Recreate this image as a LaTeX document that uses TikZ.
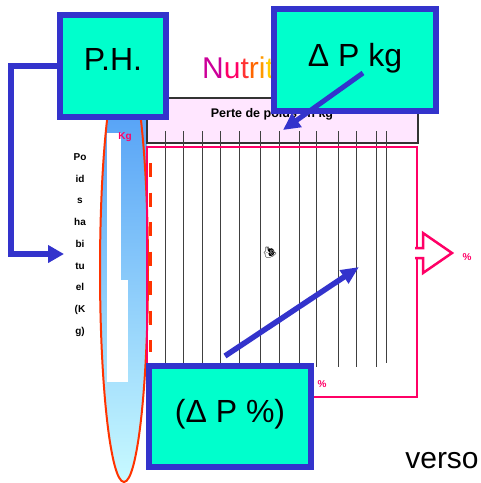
\documentclass[tikz,border=0pt]{standalone}
\usepackage{fontspec}
\setmainfont{Liberation Sans}
\newfontfamily\emojifont{Noto Emoji}
\usetikzlibrary{arrows.meta}
\definecolor{aqua}{RGB}{0,255,204}
\definecolor{bblue}{RGB}{51,51,204}
\definecolor{hotpink}{RGB}{255,0,102}
\definecolor{orred}{RGB}{255,51,0}
\definecolor{lpink}{RGB}{255,230,255}
\definecolor{gtop}{RGB}{70,150,245}
\definecolor{gbot}{RGB}{200,250,255}
\definecolor{tA}{RGB}{204,0,153}
\definecolor{tB}{RGB}{255,0,102}
\definecolor{tC}{RGB}{255,51,51}
\definecolor{tD}{RGB}{255,102,0}
\definecolor{tE}{RGB}{255,153,0}
\definecolor{tF}{RGB}{255,204,0}
\begin{document}
\begin{tikzpicture}[x=1pt,y=-1pt,
  callout/.style={draw=bblue, line width=6pt, fill=aqua, inner sep=0pt, font=\fontsize{32}{36}\selectfont},
  bluearrow/.style={draw=bblue, line width=6pt, -{Triangle[length=16pt,width=17pt]}},
  thinarrow/.style={draw=bblue, line width=5pt, -{Triangle[length=17pt,width=16pt]}},
  smalllabel/.style={inner sep=0pt, font=\bfseries\fontsize{10}{12}\selectfont},
  pinklabel/.style={smalllabel, text=hotpink},
  gridline/.style={draw=black!75, line width=1pt},
  thermo/.style={top color=gtop, bottom color=gbot}
]
\useasboundingbox (0,0) rectangle (481,483);
% thermometer
\begin{scope}
  \clip (124,270) ellipse [x radius=24, y radius=212];
  \shade[thermo] (99,58) rectangle (149,482);
\end{scope}
\begin{scope}
  \clip (107,110) rectangle (147,300);
  \shade[thermo] (99,58) rectangle (149,482);
\end{scope}
\fill[white] (107,133) rectangle (121,280);
\fill[white] (107,280) rectangle (128,382);
\draw[orred, line width=2pt] (124,270) ellipse [x radius=24, y radius=212];
\node[pinklabel] (kg) at (125,137) {Kg};
% header box
\draw[draw=black!80, fill=lpink, line width=1.2pt] (147,98) rectangle (418,143);
\node[inner sep=0pt, font=\bfseries\fontsize{12.5}{14}\selectfont] (perte) at (272,114) {Perte de poids en kg};
% grid
\foreach \x in {165,183.7,202.3,220.7,239,260.7,279.3,299,316.7,338,356.7,376}
  \draw[gridline] (\x,131) -- (\x,367);
\draw[gridline] (386.7,131) -- (386.7,363);
\draw[hotpink, line width=2.5pt] (147,147) rectangle (417,397);
\draw[orred, line width=3pt, dash pattern=on 14pt off 15.5pt] (150,163) -- (150,352);
% hollow arrow
\draw[hotpink, line width=2.5pt, fill=white, line join=miter] (415,248) -- (423,248) -- (423,233) -- (452,253) -- (423,273) -- (423,258) -- (415,258);
\node[pinklabel] (pc1) at (467,257) {\%};
\node[pinklabel] (pc2) at (322,384) {\%};
\node[inner sep=0pt, font=\emojifont\fontsize{11}{12}\selectfont] (snail) at (270,253) {🐌};
% title
\node[anchor=base west, inner sep=0pt, font=\fontsize{30}{34}\selectfont] (title) at (202,78) {{\color{tA}N}{\color{tB}u}{\color{tC}t}{\color{tD}r}{\color{tE}i}{\color{tF}t}};
% callout boxes
\node[callout, minimum width=106pt, minimum height=102pt] (ph) at (113,66) {\raisebox{13pt}{P.H.}};
\node[callout, minimum width=162pt, minimum height=102pt] (dpkg) at (355,60) {\raisebox{10pt}{Δ P kg}};
\node[callout, minimum width=162pt, minimum height=101pt] (dpp) at (230,416.5) {\raisebox{11pt}{(Δ P \%)}};
% connectors
\coordinate (phtip) at (64,254);
\coordinate (kgfrom) at (363,73);
\coordinate (kgtip) at (283,130);
\coordinate (ppfrom) at (225,356);
\coordinate (pptip) at (359,267);
\draw[bluearrow] (ph.west) -- (11,66) |- (phtip);
\draw[thinarrow] (kgfrom) -- (kgtip);
\draw[bluearrow, line width=5.5pt, -{Triangle[length=18pt,width=15pt]}] (ppfrom) -- (pptip);
% side text
\node[smalllabel, align=center, font=\bfseries\fontsize{10}{21.7}\selectfont] (poids) at (80,245) {Po\\id\\s\\ha\\bi\\tu\\el\\(K\\g)};
\node[inner sep=0pt, anchor=base, font=\fontsize{30}{34}\selectfont] (verso) at (442,468) {verso};
\end{tikzpicture}
\end{document}
